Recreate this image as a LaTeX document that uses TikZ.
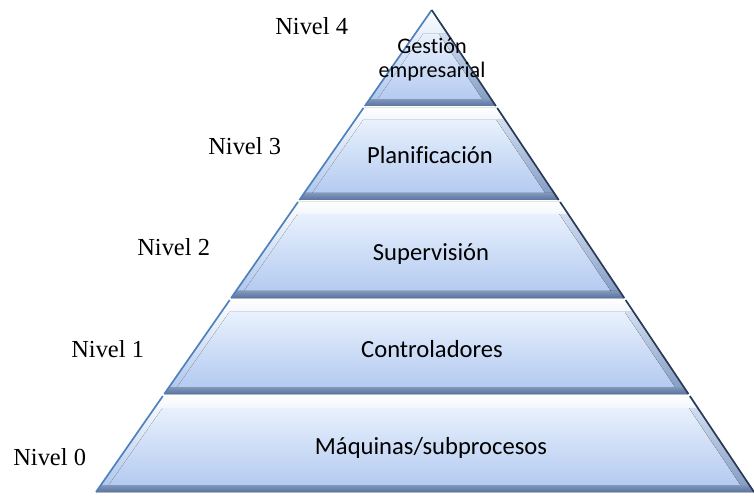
\documentclass[tikz,border=0pt]{standalone}
\usepackage{fontspec}
\setmainfont{Liberation Serif}
\newfontfamily\calibfont[Ligatures=NoCommon]{Carlito}
\usetikzlibrary{calc}

\definecolor{edgeL}{RGB}{79,129,189}
\definecolor{edgeR}{RGB}{40,58,85}
\definecolor{bandC}{RGB}{88,116,162}
\definecolor{innerTop}{RGB}{232,241,253}
\definecolor{innerBot}{RGB}{180,202,240}
\definecolor{bevelTop}{RGB}{253,254,255}
\definecolor{bevelBot}{RGB}{170,196,235}
\definecolor{sideTop}{RGB}{210,222,240}
\definecolor{sideBot}{RGB}{135,158,198}

\begin{document}
\begin{tikzpicture}[x=0.025cm,y=-0.025cm,
  levelText/.style={font=\calibfont\fontsize{17.5}{21}\selectfont, align=center, inner sep=0pt, anchor=base},
  topText/.style={font=\calibfont\fontsize{15.8}{17}\selectfont, align=center, inner sep=0pt},
  nivelText/.style={font=\fontsize{17.4}{20}\selectfont, inner sep=0pt, anchor=base west}]
  % \draw[step=50,thin,gray!40] (0,0) grid (754,499);
  \useasboundingbox (0,0) rectangle (754,499);

  \coordinate (apex) at (431.7,10);
  \coordinate (bl) at (96,492);
  \coordinate (br) at (754,492);

  \foreach \ya/\yi/\yb in {10/34/106, 108/120/200, 202/214/298, 300/312/394, 396/408/492} {
    \pgfmathsetmacro{\ta}{(\ya-10)/482}
    \pgfmathsetmacro{\ti}{(\yi-10)/482}
    \pgfmathsetmacro{\tc}{(\yb-17)/482}
    \pgfmathsetmacro{\tb}{(\yb-10)/482}
    \fill[top color=bevelTop, bottom color=bevelBot] ($(apex)!\ta!(bl)$) -- ($(apex)!\ta!(br)$) -- ($(apex)!\tb!(br)$) -- ($(apex)!\tb!(bl)$) -- cycle;
    \fill[top color=sideTop, bottom color=sideBot] ($(apex)!\ti!(br)$) -- ($(apex)!\tc!(br)$) -- ($(apex)!\tc!(br)+(-9,0)$) -- ($(apex)!\ti!(br)+(-9,0)$) -- cycle;
    \fill[top color=innerTop, bottom color=innerBot] ($(apex)!\ti!(bl)+(8,0)$) -- ($(apex)!\ti!(br)+(-9,0)$) -- ($(apex)!\tc!(br)+(-9,0)$) -- ($(apex)!\tc!(bl)+(8,0)$) -- cycle;
    \fill[top color=bandC!75, bottom color=bandC] ($(apex)!\tc!(bl)$) -- ($(apex)!\tc!(br)$) -- ($(apex)!\tb!(br)$) -- ($(apex)!\tb!(bl)$) -- cycle;
    \draw[edgeL, line width=1.2pt] ($(apex)!\ta!(bl)$) -- ($(apex)!\tb!(bl)$);
    \draw[edgeR, line width=1.2pt] ($(apex)!\ta!(br)$) -- ($(apex)!\tb!(br)$);
  }

  \node[topText] (gestionNode) at (432,60) {Gestión\\empresarial};
  \node[levelText] (planNode) at (430,163) {Planificación};
  \node[levelText] (superNode) at (431,260) {Supervisión};
  \node[levelText] (controlNode) at (432,357) {Controladores};
  \node[levelText] (maqNode) at (431,454) {Máquinas/subprocesos};

  \node[nivelText] (nivel4Node) at (275,35) {Nivel 4};
  \node[nivelText] (nivel3Node) at (208,154) {Nivel 3};
  \node[nivelText] (nivel2Node) at (137,255) {Nivel 2};
  \node[nivelText] (nivel1Node) at (71,357) {Nivel 1};
  \node[nivelText] (nivel0Node) at (13,465) {Nivel 0};
\end{tikzpicture}
\end{document}
